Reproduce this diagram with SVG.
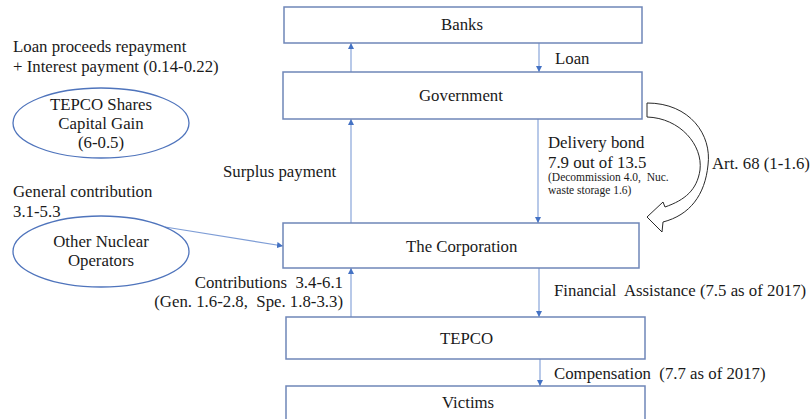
<svg xmlns="http://www.w3.org/2000/svg" width="810" height="419" viewBox="0 0 810 419">
<defs>
<style>
.box{fill:#fff;stroke:#6F86B8;stroke-width:1.5}
.ell{fill:#fff;stroke:#4F74BC;stroke-width:1.3}
text{font-family:'Liberation Serif','DejaVu Serif',serif;fill:#1a1a1a;white-space:pre}
.t{font-size:16.8px}
.s{font-size:11.5px}
.c{fill:none;stroke:#7E9DD6;stroke-width:1.1}
.big{fill:#fff;stroke:#2a2a2a;stroke-width:1}
</style>
<marker id="ah" markerUnits="userSpaceOnUse" markerWidth="7" markerHeight="7" refX="6" refY="3" orient="auto">
<path d="M0,0 L6,3 L0,6 z" fill="#4472C4"/>
</marker>
</defs>
<rect width="810" height="419" fill="#fff"/>
<g id="connectors">
<line class="c" x1="351" y1="72" x2="351" y2="43" marker-end="url(#ah)"/>
<line class="c" x1="539" y1="43" x2="539" y2="72" marker-end="url(#ah)"/>
<line class="c" x1="351" y1="223" x2="351" y2="119" marker-end="url(#ah)"/>
<line class="c" x1="538" y1="119" x2="538" y2="223" marker-end="url(#ah)"/>
<line class="c" x1="351" y1="317" x2="351" y2="268" marker-end="url(#ah)"/>
<line class="c" x1="539" y1="268" x2="539" y2="317" marker-end="url(#ah)"/>
<line class="c" x1="540" y1="359" x2="540" y2="386" marker-end="url(#ah)"/>
<line class="c" x1="165" y1="227" x2="283" y2="246" marker-end="url(#ah)"/>
<path id="art68-arrow" class="big" d="M647,103 C690,103 712,135 708,165 C705,195 690,215 663,222 L662,232 L647,217 L663,202 L665,207 C685,200 697,190 700,170 C703,145 680,118 647,117 Z"/>
</g>
<g id="banks"><rect class="box" x="284" y="7" width="358" height="36"/><text class="t" x="441" y="30">Banks</text></g>
<g id="government"><rect class="box" x="283" y="72" width="359" height="47"/><text class="t" x="419" y="101">Government</text></g>
<g id="corporation"><rect class="box" x="283" y="223" width="356" height="45"/><text class="t" x="406" y="252">The Corporation</text></g>
<g id="tepco"><rect class="box" x="286" y="317" width="359" height="42"/><text class="t" x="440" y="344">TEPCO</text></g>
<g id="victims"><rect class="box" x="286" y="386" width="359" height="40"/><text class="t" x="442" y="408">Victims</text></g>
<g id="tepco-shares"><ellipse class="ell" cx="101" cy="123" rx="88" ry="35"/>
<text class="t" text-anchor="middle" x="101" y="110">TEPCO Shares</text>
<text class="t" text-anchor="middle" x="101" y="129">Capital Gain</text>
<text class="t" text-anchor="middle" x="101" y="148">(6-0.5)</text></g>
<g id="other-nuclear"><ellipse class="ell" cx="101" cy="251.5" rx="88" ry="35.5"/>
<text class="t" text-anchor="middle" x="101" y="247">Other Nuclear</text>
<text class="t" text-anchor="middle" x="101" y="266">Operators</text></g>
<g id="labels">
<text class="t" x="13" y="52">Loan proceeds repayment</text>
<text class="t" x="13" y="72">+ Interest payment (0.14-0.22)</text>
<text class="t" x="13" y="197">General contribution</text>
<text class="t" x="13" y="217">3.1-5.3</text>
<text class="t" x="223" y="177">Surplus payment</text>
<text class="t" text-anchor="end" x="343" y="288">Contributions  3.4-6.1</text>
<text class="t" text-anchor="end" x="343" y="307">(Gen. 1.6-2.8,  Spe. 1.8-3.3)</text>
<text class="t" x="555" y="64">Loan</text>
<text class="t" x="548" y="148">Delivery bond</text>
<text class="t" x="548" y="168">7.9 out of 13.5</text>
<text class="s" x="548" y="181">(Decommission 4.0,  Nuc.</text>
<text class="s" x="548" y="194">waste storage 1.6)</text>
<text class="t" x="712" y="169">Art. 68 (1-1.6)</text>
<text class="t" x="554" y="296">Financial  Assistance (7.5 as of 2017)</text>
<text class="t" x="554" y="379">Compensation  (7.7 as of 2017)</text>
</g>
</svg>
